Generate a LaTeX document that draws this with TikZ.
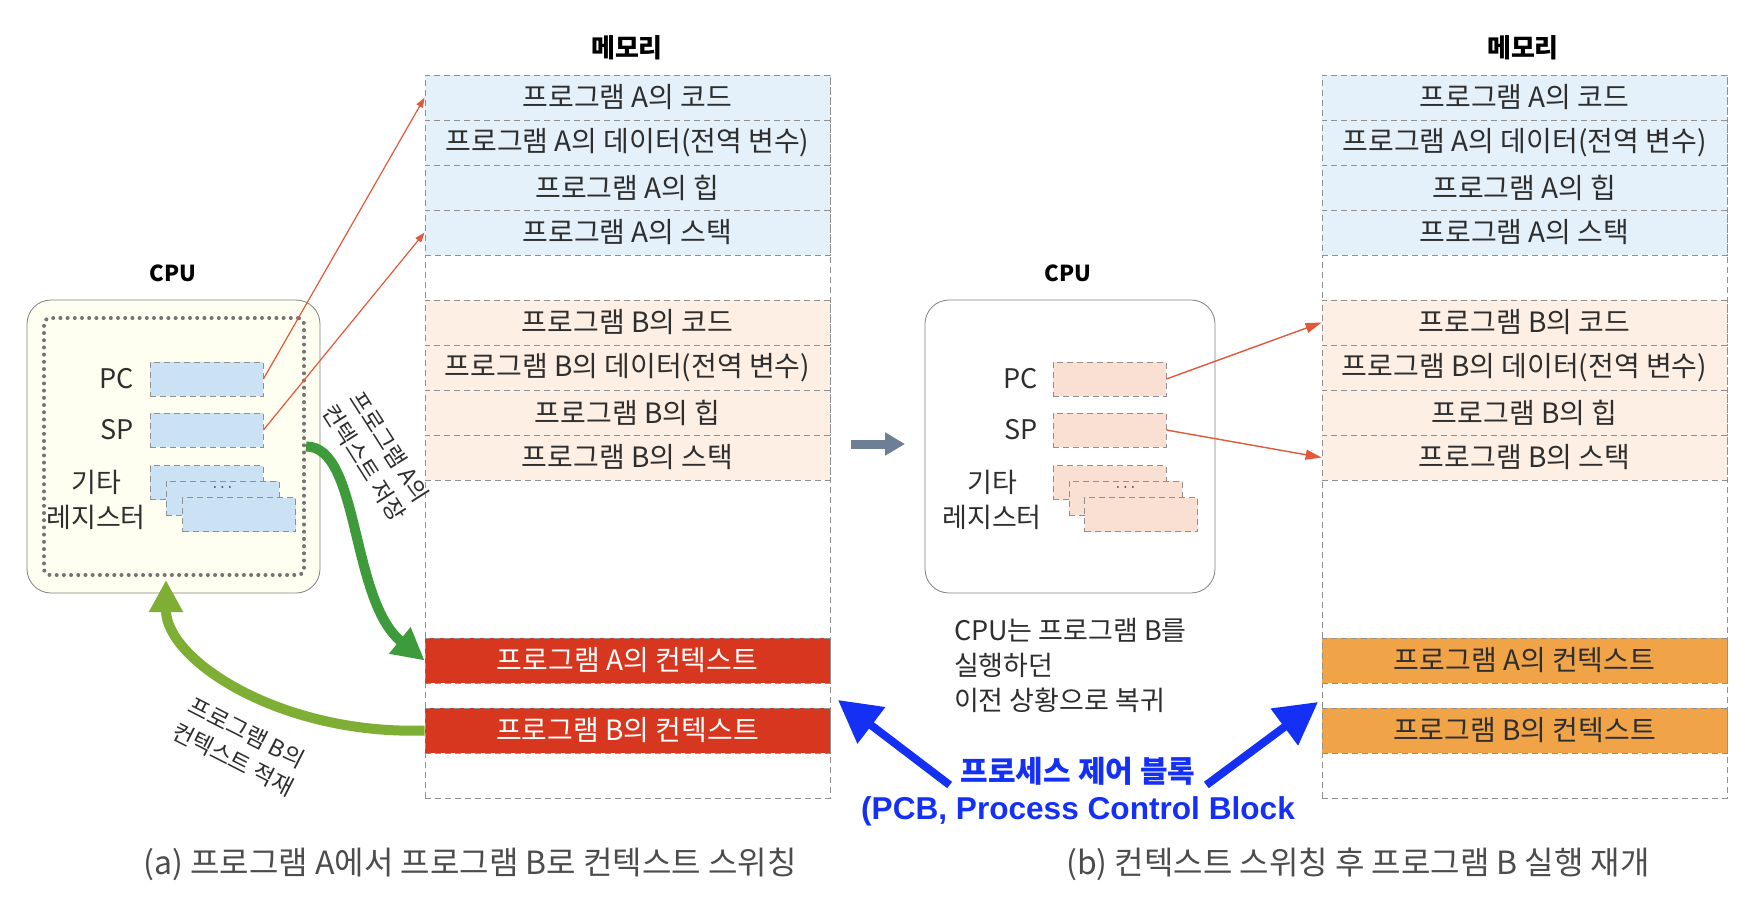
\documentclass[tikz,border=0pt]{standalone}
\usepackage{fontspec}
\setmainfont{Noto Sans CJK KR}
\newfontfamily\latinbold{Liberation Sans}
\usetikzlibrary{arrows.meta}
\definecolor{amemfill}{HTML}{E4F1FA}
\definecolor{bmemfill}{HTML}{FDEFE4}
\definecolor{aregfill}{HTML}{CBE2F5}
\definecolor{bregfill}{HTML}{FADFD3}
\definecolor{ctxred}{HTML}{D8371F}
\definecolor{ctxorange}{HTML}{F0A447}
\definecolor{linegray}{HTML}{909090}
\definecolor{ptrred}{HTML}{E2583A}
\definecolor{savegreen}{HTML}{3E9B3B}
\definecolor{loadgreen}{HTML}{7EAE34}
\definecolor{pcbblue}{HTML}{1430F5}
\definecolor{switchgray}{HTML}{6D7F95}
\definecolor{textgray}{HTML}{2E2E2E}
\definecolor{cpufill}{HTML}{FFFFF1}
\tikzstyle{title}=[font=\bfseries\fontsize{11}{13}\selectfont]
\tikzstyle{memtitle}=[font=\bfseries\fontsize{13}{15}\selectfont]
\tikzstyle{mem}=[draw=linegray, densely dashed, minimum width=202.5pt, minimum height=361.5pt, inner sep=0pt]
\tikzstyle{memrow}=[draw=linegray, densely dashed, minimum width=202.5pt, minimum height=22.5pt, inner sep=0pt, text=textgray, font=\fontsize{14}{16}\selectfont]
\tikzstyle{arow}=[memrow, fill=amemfill]
\tikzstyle{brow}=[memrow, fill=bmemfill]
\tikzstyle{ctxrow}=[memrow, fill=ctxred, text=white]
\tikzstyle{ctxrowb}=[memrow, fill=ctxorange]
\tikzstyle{reg}=[draw=linegray, densely dashed, minimum width=56.5pt, minimum height=17pt, inner sep=0pt]
\tikzstyle{areg}=[reg, fill=aregfill]
\tikzstyle{breg}=[reg, fill=bregfill]
\tikzstyle{reglabel}=[font=\fontsize{13.5}{17.5}\selectfont, text=textgray, align=center]
\tikzstyle{cpubox}=[draw=gray, rounded corners=12pt, minimum width=146.5pt, minimum height=146.5pt]
\tikzstyle{regframe}=[draw=black!55, line width=2pt, dash pattern=on 0pt off 3.6pt, line cap=round, rounded corners=3pt, minimum width=130pt, minimum height=128.5pt]
\tikzstyle{ptr}=[ptrred, line width=0.6pt, -{Triangle[length=5pt,width=3.5pt]}]
\tikzstyle{bigptr}=[ptrred, line width=0.7pt, -{Triangle[length=8pt,width=5pt]}]
\tikzstyle{flow}=[line width=5pt, -{Triangle[length=16pt,width=16pt]}]
\tikzstyle{pcbarrow}=[pcbblue, line width=4pt, -{Triangle[length=21pt,width=22pt]}]
\tikzstyle{rotlabel}=[font=\fontsize{11.5}{15}\selectfont, text=textgray, align=center]
\tikzstyle{caption}=[font=\fontsize{16}{19}\selectfont, text=black!70]
\tikzstyle{dots}=[font=\fontsize{8}{8}\selectfont, text=textgray, inner sep=0pt]

\begin{document}
\begin{tikzpicture}[x=0.5pt, y=-0.5pt]
        \useasboundingbox (0,0) rectangle (1764,916);
        % (a) CPU
        \node[title]               (cpuAtitle) at (173,273) {CPU};
        \node[cpubox, fill=cpufill] (cpuA)     at (173.5,446.5) {};
        \node[regframe]            (regsA)     at (174,446.5) {};
        \node[reglabel, anchor=east] (pcAlabel) at (141,379) {PC};
        \node[reglabel, anchor=east] (spAlabel) at (141,430) {SP};
        \node[reglabel]            (etcAlabel) at (96,499.5) {기타\\레지스터};
        \node[areg]                (pcA)       at (206.5,379) {};
        \node[areg]                (spA)       at (206.5,430) {};
        \node[areg]                (etcA1)     at (206.5,482.5) {};
        \node[areg]                (etcA2)     at (222.5,498) {};
        \node[dots]                (etcAdots)  at (222.5,488) {$\cdots$};
        \node[areg]                (etcA3)     at (239,514.5) {};
        % (a) memory
        \node[memtitle]            (memAtitle) at (627,48) {메모리};
        \node[mem]                 (memA)      at (627.5,436.5) {};
        \node[arow]                (codeA)     at (627.5,97.5) {프로그램 A의 코드};
        \node[arow]                (dataA)     at (627.5,142.5) {프로그램 A의 데이터(전역 변수)};
        \node[arow]                (heapA)     at (627.5,187.5) {프로그램 A의 힙};
        \node[arow]                (stackA)    at (627.5,232.5) {프로그램 A의 스택};
        \node[brow]                (codeB)     at (627.5,322.5) {프로그램 B의 코드};
        \node[brow]                (dataB)     at (627.5,367.5) {프로그램 B의 데이터(전역 변수)};
        \node[brow]                (heapB)     at (627.5,412.5) {프로그램 B의 힙};
        \node[brow]                (stackB)    at (627.5,457.5) {프로그램 B의 스택};
        \node[ctxrow]              (ctxA)      at (627.5,660.5) {프로그램 A의 컨텍스트};
        \node[ctxrow]              (ctxB)      at (627.5,730.5) {프로그램 B의 컨텍스트};
        \draw[ptr] (pcA.east) -- (codeA.west);
        \draw[ptr] (spA.east) -- (stackA.west);
        \coordinate (loadtip) at (166,580);
        \draw[flow, savegreen] (regsA.east) .. controls (360,446) and (350,600) .. (ctxA.west);
        \draw[flow, loadgreen] (ctxB.west) .. controls (280,735) and (166,660) .. (loadtip);
        \node[rotlabel, rotate=-57.5] (saveAlabel) at (377,455) {프로그램 A의\\컨텍스트 저장};
        \node[rotlabel, rotate=-27]   (loadBlabel) at (240,746) {프로그램 B의\\컨텍스트 적재};
        \node[caption]             (capA)      at (470,864) {(a) 프로그램 A에서 프로그램 B로 컨텍스트 스위칭};
        % switch
        \coordinate (switchfrom) at (851,444);
        \coordinate (switchto)   at (905,444);
        \draw[switchgray, line width=4.5pt, -{Triangle[length=10pt,width=11pt]}] (switchfrom) -- (switchto);
        % (b) CPU
        \node[title]               (cpuBtitle) at (1068,273) {CPU};
        \node[cpubox, fill=white, minimum width=145pt] (cpuB) at (1070,446.5) {};
        \node[reglabel, anchor=east] (pcBlabel) at (1045,379) {PC};
        \node[reglabel, anchor=east] (spBlabel) at (1045,430) {SP};
        \node[reglabel]            (etcBlabel) at (992,499.5) {기타\\레지스터};
        \node[breg]                (pcB)       at (1109.5,379) {};
        \node[breg]                (spB)       at (1109.5,430) {};
        \node[breg]                (etcB1)     at (1109.5,482.5) {};
        \node[breg]                (etcB2)     at (1125.5,498) {};
        \node[dots]                (etcBdots)  at (1125.5,488) {$\cdots$};
        \node[breg]                (etcB3)     at (1141,514.5) {};
        \node[reglabel, align=left, anchor=west] (resume) at (947,665) {CPU는 프로그램 B를\\실행하던\\이전 상황으로 복귀};
        % (b) memory
        \node[memtitle]            (memBtitle) at (1523,48) {메모리};
        \node[mem]                 (memB)      at (1524.5,436.5) {};
        \node[arow]                (codeA2)    at (1524.5,97.5) {프로그램 A의 코드};
        \node[arow]                (dataA2)    at (1524.5,142.5) {프로그램 A의 데이터(전역 변수)};
        \node[arow]                (heapA2)    at (1524.5,187.5) {프로그램 A의 힙};
        \node[arow]                (stackA2)   at (1524.5,232.5) {프로그램 A의 스택};
        \node[brow]                (codeB2)    at (1524.5,322.5) {프로그램 B의 코드};
        \node[brow]                (dataB2)    at (1524.5,367.5) {프로그램 B의 데이터(전역 변수)};
        \node[brow]                (heapB2)    at (1524.5,412.5) {프로그램 B의 힙};
        \node[brow]                (stackB2)   at (1524.5,457.5) {프로그램 B의 스택};
        \node[ctxrowb]             (ctxA2)     at (1524.5,660.5) {프로그램 A의 컨텍스트};
        \node[ctxrowb]             (ctxB2)     at (1524.5,730.5) {프로그램 B의 컨텍스트};
        \draw[bigptr] (pcB.east) -- (codeB2.west);
        \draw[bigptr] (spB.east) -- (stackB2.west);
        \node[caption]             (capB)      at (1358,864) {(b) 컨텍스트 스위칭 후 프로그램 B 실행 재개};
        % PCB
        \node[font=\bfseries\fontsize{15}{17}\selectfont, text=pcbblue] (pcbko) at (1078,771) {프로세스 제어 블록};
        \node[font=\latinbold\bfseries\fontsize{15.8}{18}\selectfont, text=pcbblue] (pcben) at (1078,811) {(PCB, Process Control Block};
        \coordinate (pcbtipA) at (838,700);
        \coordinate (pcbtipB) at (1318,702);
        \draw[pcbarrow] ([shift={(-4,14)}]pcbko.west) -- (pcbtipA);
        \draw[pcbarrow] ([shift={(4,14)}]pcbko.east) -- (pcbtipB);
    \end{tikzpicture}
\end{document}
